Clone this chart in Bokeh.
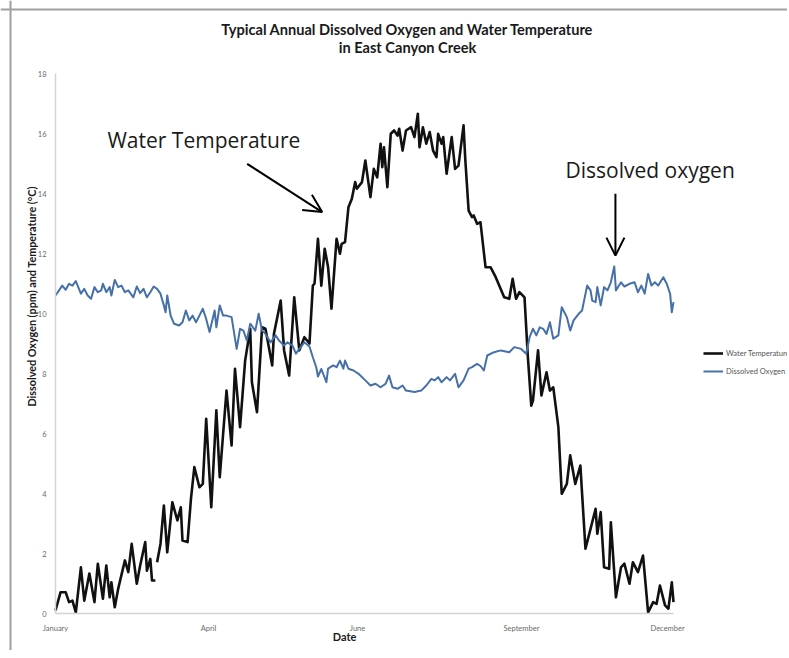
from bokeh.plotting import figure
from bokeh.models import Range1d, FixedTicker, Label, Arrow, OpenHead, Legend, LegendItem, Span
from bokeh.embed import file_html
from bokeh.resources import INLINE

title_line1 = "Typical Annual Dissolved Oxygen and Water Temperature"
title_line2 = "in East Canyon Creek"
y_axis_title = "Dissolved Oxygen (ppm) and Temperature (°C)"
x_axis_title = "Date"

month_labels = ["January", "April", "June", "September", "December"]
month_tick_days = [0, 90.4, 178.4, 275.2, 361.5]
y_ticks = [0, 2, 4, 6, 8, 10, 12, 14, 16, 18]

NaN = float("nan")

# Water temperature (°C) by day of year (gap near day 59.5)
temp_days = [0, 3, 6, 8, 10, 12, 15, 17, 20, 23, 25, 28, 30, 32, 33, 35, 37, 41, 43, 45,
             48, 50, 53, 54, 56, 57, 59, 59.5, 60, 62, 64, 66, 69, 72, 74, 75, 78, 80, 82, 85,
             87, 89, 92, 95, 97, 101, 104, 106, 109, 112, 115, 116, 119, 122, 124, 128, 129, 133, 135, 138,
             141, 144, 147, 150, 152, 153, 155, 157, 159, 161, 163, 166, 168, 169, 171, 173, 175, 177, 178, 181,
             183, 186, 188, 190, 192, 193, 194, 196, 198, 200, 202, 203, 205, 207, 210, 212, 214, 215, 217, 219,
             221, 223, 225, 226, 228, 229, 231, 234, 236, 238, 241, 242, 244, 246, 247, 249, 251, 254, 257, 260,
             265, 268, 270, 272, 274, 277, 279, 281, 282, 285, 287, 290, 292, 294, 297, 299, 302, 304, 307, 310,
             313, 316, 319, 320, 322, 324, 327, 328, 331, 334, 336, 339, 341, 344, 347, 350, 353, 355, 357, 360,
             362, 364, 365]
temp_values = [0.1, 0.71, 0.71, 0.38, 0.43, 0.04, 1.54, 0.43, 1.33, 0.38, 1.66, 0.49, 1.6, 0.54, 1.04, 0.21, 0.82, 1.77, 1.38, 2.32,
               0.99, 1.6, 2.38, 1.43, 1.82, 1.1, 1.1, NaN, 1.71, 2.32, 3.6, 2.04, 3.71, 3.1, 3.54, 2.43, 2.38, 3.82, 4.88, 4.21,
               4.32, 6.49, 3.54, 6.77, 4.54, 7.43, 5.6, 8.16, 6.21, 8.43, 9.49, 7.71, 6.71, 9.54, 9.49, 8.27, 9.32, 10.43, 8.77, 7.93,
               10.54, 8.77, 9.21, 9.0, 10.93, 11.0, 12.49, 10.93, 12.16, 11.54, 10.16, 12.49, 11.99, 12.32, 12.38, 13.54, 13.82, 14.38, 14.16, 14.38,
               15.1, 13.88, 14.82, 14.54, 15.66, 14.88, 15.54, 14.21, 15.99, 16.1, 15.93, 16.16, 15.43, 16.1, 16.21, 15.88, 16.66, 15.54, 16.21, 15.66,
               16.05, 15.43, 15.21, 15.99, 15.66, 15.88, 14.66, 15.88, 14.82, 14.93, 16.27, 15.16, 13.43, 13.21, 13.27, 12.99, 13.04, 11.54, 11.54, 11.21,
               10.54, 10.49, 11.16, 10.49, 10.71, 10.54, 8.54, 6.93, 7.1, 8.77, 7.27, 8.04, 7.43, 7.54, 6.21, 3.99, 4.32, 5.27, 4.32, 4.93,
               2.16, 2.82, 3.49, 2.66, 3.38, 1.54, 1.49, 3.04, 0.54, 1.54, 1.66, 0.99, 1.71, 1.38, 1.93, 0.04, 0.38, 0.32, 0.93, 0.27,
               0.16, 1.04, 0.38]

# Dissolved oxygen (ppm) by day of year
do_days = [0, 4, 6, 8, 10, 12, 15, 17, 19, 21, 23, 25, 27, 28, 30, 32, 33, 35, 37, 39,
           41, 43, 46, 48, 50, 52, 54, 56, 58, 60, 62, 64, 65, 66, 68, 70, 73, 75, 77, 79,
           81, 83, 85, 87, 89, 91, 94, 95, 97, 99, 101, 104, 107, 109, 111, 113, 115, 118, 120, 122,
           124, 127, 130, 132, 135, 137, 140, 142, 144, 147, 150, 152, 154, 155, 157, 160, 161, 164, 166, 168,
           170, 171, 173, 176, 179, 183, 186, 189, 192, 195, 197, 199, 202, 205, 207, 212, 216, 219, 222, 224,
           226, 228, 231, 233, 236, 238, 241, 244, 246, 249, 251, 253, 255, 259, 263, 268, 271, 275, 278, 280,
           282, 284, 286, 288, 290, 292, 294, 297, 299, 302, 304, 306, 309, 311, 314, 316, 317, 319, 320, 322,
           324, 326, 328, 330, 331, 334, 336, 339, 342, 344, 346, 348, 350, 352, 354, 356, 359, 361, 363, 364,
           365]
do_values = [10.6, 10.93, 10.79, 10.99, 10.93, 11.08, 10.66, 10.82, 10.6, 10.49, 10.88, 10.71, 10.77, 10.99, 10.71, 10.88, 10.6, 11.12, 10.88, 10.93,
             10.71, 10.77, 10.54, 10.9, 10.68, 10.82, 10.54, 10.71, 10.9, 10.82, 10.66, 10.27, 10.04, 10.6, 9.93, 9.66, 9.6, 9.71, 10.1, 9.77,
             9.93, 9.71, 9.93, 10.16, 9.82, 9.38, 10.1, 9.54, 10.27, 9.93, 9.93, 9.88, 8.82, 9.49, 9.43, 9.1, 9.66, 9.43, 9.99, 9.43,
             9.32, 9.04, 9.27, 9.1, 8.93, 9.04, 8.93, 8.66, 8.82, 9.04, 8.9, 8.54, 8.21, 7.9, 8.15, 7.71, 8.16, 8.27, 8.21, 8.43,
             8.16, 8.43, 8.16, 8.1, 7.99, 7.77, 7.6, 7.66, 7.54, 7.66, 7.93, 7.54, 7.49, 7.6, 7.43, 7.38, 7.43, 7.6, 7.82, 7.77,
             7.88, 7.71, 7.88, 7.77, 7.99, 7.54, 7.77, 8.16, 8.21, 8.32, 8.25, 8.1, 8.6, 8.71, 8.77, 8.71, 8.88, 8.82, 8.66, 9.21,
             9.49, 9.27, 9.54, 9.49, 9.32, 9.71, 9.16, 9.27, 10.21, 9.88, 9.43, 9.77, 9.99, 10.1, 10.93, 10.77, 10.43, 10.38, 10.88, 10.27,
             10.88, 10.77, 11.04, 11.57, 10.77, 11.04, 10.9, 10.99, 11.04, 10.71, 10.93, 10.66, 11.32, 10.93, 11.04, 10.93, 11.21, 10.99, 10.66, 10.04,
             10.38]

FONT = "Lato"
CALLOUT_FONT = "Open Sans"
TEMP_COLOR = "#111111"
DO_COLOR = "#4570a8"
TEXT_COLOR = "#1a1a1a"
FRAME_COLOR = "#a0a0a0"

W, H = 787, 650          # canvas size
X0_PX, Y0_PX = 55, 613   # where day 0 / value 0 sit on the canvas
PX_PER_DAY = 618 / 365.0
PX_PER_UNIT = 30.0

p = figure(width=W, height=H, output_backend="svg", toolbar_location=None,
           x_range=Range1d(-X0_PX / PX_PER_DAY, (W - X0_PX) / PX_PER_DAY),
           y_range=Range1d(-(H - Y0_PX) / PX_PER_UNIT, Y0_PX / PX_PER_UNIT),
           min_border=0, title=None)
p.outline_line_color = None
p.xgrid.grid_line_color = None
p.ygrid.grid_line_color = None
p.background_fill_color = "white"
p.border_fill_color = "white"

# Chart-area border (left and top edges)
p.add_layout(Span(location=-(X0_PX - 10) / PX_PER_DAY, dimension="height",
                  line_color=FRAME_COLOR, line_width=2))
p.add_layout(Span(location=(Y0_PX - 9) / PX_PER_UNIT, dimension="width",
                  line_color=FRAME_COLOR, line_width=2))

for ax in (p.xaxis[0], p.yaxis[0]):
    ax.fixed_location = 0
    ax.axis_line_color = "#d4d4d4"
    ax.axis_line_width = 1.5
    ax.major_tick_line_color = None
    ax.minor_tick_line_color = None
    ax.major_tick_out = 0
    ax.major_tick_in = 0
    ax.minor_tick_out = 0
    ax.minor_tick_in = 0
    ax.major_label_text_font = FONT
    ax.major_label_text_font_size = "7.5px"
    ax.major_label_text_color = "#6a6a6a"

p.xaxis[0].major_label_standoff = 10
p.yaxis[0].major_label_standoff = 9
p.xaxis[0].bounds = (0, 365)
p.yaxis[0].bounds = (0, 18)
p.xaxis[0].ticker = FixedTicker(ticks=month_tick_days)
p.xaxis[0].major_label_overrides = {t: l for t, l in zip(month_tick_days, month_labels)}
p.yaxis[0].ticker = FixedTicker(ticks=y_ticks)

r_temp = p.line(temp_days, temp_values, line_color=TEMP_COLOR, line_width=2.6, line_join="round")
r_do = p.line(do_days, do_values, line_color=DO_COLOR, line_width=2.0, line_join="round")

legend = Legend(items=[LegendItem(label="Water Temperature", renderers=[r_temp]),
                       LegendItem(label="Dissolved Oxygen", renderers=[r_do])],
                location=(703, H - 379), padding=0, margin=0, spacing=2,
                glyph_width=20, glyph_height=16, label_height=16, label_standoff=3,
                label_text_font=FONT, label_text_font_size="7.5px", label_text_color="#555555",
                border_line_color=None, background_fill_alpha=0)
p.add_layout(legend, "center")

# Title lines and axis titles
p.add_layout(Label(x=207.9, y=19.47, text=title_line1, text_align="center", text_baseline="middle",
                   text_font=FONT, text_font_style="bold", text_font_size="14.6px", text_color=TEXT_COLOR))
p.add_layout(Label(x=207.9, y=18.87, text=title_line2, text_align="center", text_baseline="middle",
                   text_font=FONT, text_font_style="bold", text_font_size="14.6px", text_color=TEXT_COLOR))
p.add_layout(Label(x=-14.0, y=10.57, text=y_axis_title, angle=1.5707963, text_align="center",
                   text_baseline="middle", text_font=FONT, text_font_style="bold", text_font_size="10.8px",
                   text_color=TEXT_COLOR))
p.add_layout(Label(x=170.7, y=-0.77, text=x_axis_title, text_align="center", text_baseline="middle",
                   text_font=FONT, text_font_style="bold", text_font_size="11px", text_color=TEXT_COLOR))

# Callouts
p.add_layout(Label(x=30.7, y=15.77, text="Water Temperature", text_align="left", text_baseline="middle",
                   text_font=CALLOUT_FONT, text_font_size="21px", text_color=TEXT_COLOR))
p.add_layout(Label(x=301.2, y=14.77, text="Dissolved oxygen", text_align="left", text_baseline="middle",
                   text_font=CALLOUT_FONT, text_font_size="21px", text_color=TEXT_COLOR))
p.add_layout(Arrow(x_start=113.2, y_start=14.99, x_end=157.5, y_end=13.38,
                   line_width=2, line_color="black",
                   end=OpenHead(size=18, line_width=2, line_color="black")))
p.add_layout(Arrow(x_start=330.7, y_start=13.99, x_end=330.7, y_end=11.93,
                   line_width=2, line_color="black",
                   end=OpenHead(size=18, line_width=2, line_color="black")))

open("out.html", "w").write(file_html(p, INLINE))
